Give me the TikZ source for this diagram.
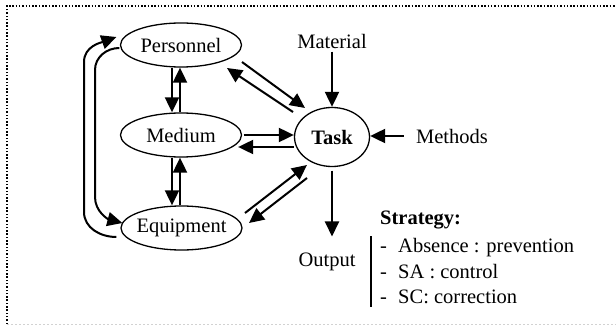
\documentclass[tikz,border=0pt]{standalone}
\usepackage{fontspec}
\setmainfont{Liberation Serif}
\usetikzlibrary{arrows.meta,shapes.geometric}

\begin{document}
\begin{tikzpicture}[x=1pt, y=-1pt,
    every node/.style={font=\fontsize{20.5}{24}\selectfont},
    blob/.style={draw, ellipse, line width=1.3pt, inner xsep=-3pt, inner ysep=0pt, minimum width=121pt, minimum height=44pt},
    arr/.style={line width=2pt, -{Triangle[length=15pt,width=14pt]}},
    lbl/.style={inner sep=0pt, anchor=base west}]

    \useasboundingbox (0,0) rectangle (616,326);

    % Draw the frame
    \draw[gray!35, line width=1pt, dash pattern=on 2pt off 2pt] (7,324) -- (616,324);
    \draw[line width=1.5pt, dash pattern=on 1.5pt off 1.8pt] (7,324) -- (7,6) -- (616,6);

    % Draw the resources
    \node[blob] (per) at (181,45) {Personnel};
    \node[blob] (med) at (181,135) {Medium};
    \node[blob] (equ) at (181.5,228) {Equipment};

    % Draw the task and its inputs
    \node[draw, ellipse, line width=1.3pt, inner sep=0pt, minimum width=75pt, minimum height=59pt] (task) at (332,137) {\textbf{Task}};
    \node (mat) at (332,41) {Material};
    \node (meth) at (452,136) {Methods};
    \node (out) at (327,262) {Output};

    % Draw the arrows between the resources
    \draw[arr] ([xshift=-9pt]per.south) -- ([xshift=-9pt]med.north);
    \draw[arr] ([xshift=-1pt]med.north) -- ([xshift=-1pt]per.south);
    \draw[arr] ([xshift=-9pt]med.south) -- ([xshift=-9.5pt]equ.north);
    \draw[arr] ([xshift=-1.5pt]equ.north) -- ([xshift=-1pt]med.south);

    % Draw the loops on the left
    \draw[arr] ([shift={(-4,9)}]equ.west) to[out=180,in=-90] (84,212) -- (84,62) to[out=90,in=200] ([shift={(-3.5,-8)}]per.west);
    \draw[arr] ([shift={(-0.5,3)}]per.west) to[out=180,in=90] (95,70) -- (95,197) to[out=-90,in=165] ([shift={(2,-5)}]equ.west);

    % Draw the arrows to and from the task
    \draw[arr] ([shift={(61,17)}]per.center) -- ([shift={(-27,-29)}]task.center);
    \draw[arr] ([shift={(-39,-25)}]task.center) -- ([shift={(46,23)}]per.center);
    \draw[arr] ([xshift=1.5pt]med.east) -- ([yshift=2pt]task.west);
    \draw[arr] ([yshift=-10pt]task.west) -- ([xshift=-4pt,yshift=-12pt]med.east);
    \draw[arr] ([shift={(63.5,-15)}]equ.center) -- ([shift={(-25,28)}]task.center);
    \draw[arr] ([shift={(-25,41)}]task.center) -- ([shift={(67.5,-5)}]equ.center);

    \draw[arr] (mat.south) -- (task.north);
    \draw[arr] ([xshift=-9pt]meth.west) -- (meth.west -| task.east);
    \draw[arr] ([yshift=-3.5pt]task.south) -- ([yshift=13pt]task.south |- out.north);

    % Draw the strategy list
    \node[lbl] (strat) at (380,224) {\textbf{Strategy:}};
    \node[lbl] (s1) at (380,252) {\makebox[18pt][l]{-}Absence : prevention};
    \node[lbl] (s2) at (380,278) {\makebox[18pt][l]{-}SA : control};
    \node[lbl] (s3) at (380,303) {\makebox[18pt][l]{-}SC: correction};
    \draw[line width=2pt] (371,236) -- (371,307);
\end{tikzpicture}
\end{document}
